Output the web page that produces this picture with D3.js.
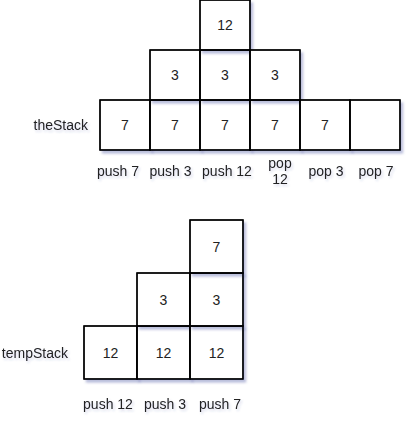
<!DOCTYPE html>
<html>
<head>
<meta charset="utf-8">
<script src="https://cdn.jsdelivr.net/npm/d3@7"></script>
<style>
  html, body { margin: 0; padding: 0; background: #fff; }
  svg { display: block; }
</style>
</head>
<body>
<svg id="chart" width="412" height="422"></svg>
<script>
// ---- data ----
const theStackSteps = ["push 7", "push 3", "push 12", "pop\n12", "pop 3", "pop 7"];
const theStackContents = [[7], [7, 3], [7, 3, 12], [7, 3], [7], []];
const tempStackSteps = ["push 12", "push 3", "push 7"];
const tempStackContents = [[12], [12, 3], [12, 3, 7]];
const stackNames = ["theStack", "tempStack"];

// ---- layout ----
const svg = d3.select("#chart");
const defs = svg.append("defs");
const f = defs.append("filter").attr("id", "sh").attr("x", "-20%").attr("y", "-20%").attr("width", "150%").attr("height", "150%");
f.append("feDropShadow").attr("dx", 2.5).attr("dy", 3).attr("stdDeviation", 1.2)
  .attr("flood-color", "#3a4a9a").attr("flood-opacity", 0.35);
const ft = defs.append("filter").attr("id", "tsh").attr("x", "-20%").attr("y", "-30%").attr("width", "150%").attr("height", "180%");
ft.append("feDropShadow").attr("dx", 1.5).attr("dy", 2).attr("stdDeviation", 1)
  .attr("flood-color", "#3a4a9a").attr("flood-opacity", 0.2);

const FONT = "'Liberation Sans', Arial, Helvetica, sans-serif";

function drawStack(cfg) {
  const g = svg.append("g");
  const x = d3.scaleBand().domain(d3.range(cfg.steps.length)).range(cfg.xRange).padding(0);
  const y = d3.scaleLinear().domain([0, 3]).range(cfg.yRange);
  const cells = [];
  cfg.contents.forEach((col, i) => {
    const n = Math.max(1, col.length);
    for (let lvl = 0; lvl < n; lvl++) cells.push({ i, lvl, v: col[lvl] });
  });
  const cg = g.selectAll("g.cell").data(cells).join("g").attr("class", "cell");
  cg.append("rect")
    .attr("x", d => x(d.i))
    .attr("y", d => y(d.lvl + 1))
    .attr("width", x.bandwidth())
    .attr("height", d => y(d.lvl) - y(d.lvl + 1))
    .attr("fill", "#fff")
    .attr("stroke", "#000")
    .attr("stroke-width", 1.3)
    .attr("filter", "url(#sh)");
  cg.append("text")
    .attr("x", d => x(d.i) + x.bandwidth() / 2)
    .attr("y", d => (y(d.lvl) + y(d.lvl + 1)) / 2 + 5)
    .attr("text-anchor", "middle")
    .attr("font-family", FONT).attr("font-size", 14).attr("fill", "#222")
    .text(d => d.v === undefined ? "" : d.v);
  // redraw borders on top so shadows don't cover neighbours
  g.selectAll("rect.border").data(cells).join("rect").attr("class", "border")
    .attr("x", d => x(d.i))
    .attr("y", d => y(d.lvl + 1))
    .attr("width", x.bandwidth())
    .attr("height", d => y(d.lvl) - y(d.lvl + 1))
    .attr("fill", "none").attr("stroke", "#000").attr("stroke-width", 1.3);

  // step labels
  const lab = g.selectAll("text.step").data(cfg.steps).join("text").attr("class", "step")
    .attr("text-anchor", "middle")
    .attr("font-family", FONT).attr("font-size", 14).attr("fill", "#222")
    .attr("filter", "url(#tsh)");
  lab.each(function (s, i) {
    const lines = s.split("\n");
    const cx = x(i) + x.bandwidth() / 2 + cfg.labelDx[i];
    const t = d3.select(this);
    lines.forEach((ln, k) => {
      t.append("tspan").attr("x", cx)
        .attr("y", cfg.labelY - (lines.length - 1) * 8 + k * 16)
        .text(ln);
    });
  });

  // stack name
  g.append("text")
    .attr("x", cfg.nameX).attr("y", (y(0) + y(1)) / 2 + 5)
    .attr("text-anchor", "end")
    .attr("font-family", FONT).attr("font-size", 14).attr("fill", "#222")
    .attr("filter", "url(#tsh)")
    .text(cfg.name);
}

drawStack({
  steps: theStackSteps, contents: theStackContents, name: stackNames[0],
  xRange: [100, 400], yRange: [150, 0], labelY: 176, nameX: 88,
  labelDx: [-7, -4.5, 2, 5, 1, 1]
});
drawStack({
  steps: tempStackSteps, contents: tempStackContents, name: stackNames[1],
  xRange: [84, 243], yRange: [379, 220], labelY: 408.5, nameX: 68,
  labelDx: [-2.5, 1.5, 3.5]
});
</script>
</body>
</html>
